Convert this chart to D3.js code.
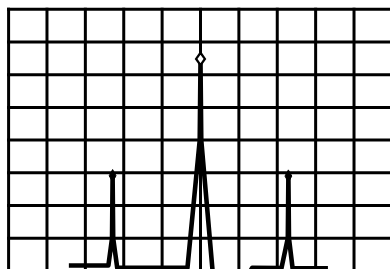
<!DOCTYPE html>
<html>
<head>
<meta charset="utf-8">
<script src="https://cdn.jsdelivr.net/npm/d3@7"></script>
<style>
  html, body { margin: 0; padding: 0; background: #fff; overflow: hidden; }
  svg { display: block; }
</style>
</head>
<body>
<svg id="chart" width="390" height="269"></svg>
<script>
// Frequency positions (0..100 across 10 grid divisions) and levels (0..8 across 8 divisions)
const freq  = [15.7, 26.0, 26.95, 27.1, 27.25, 28.3, 46.6, 49.8, 50.0, 50.2, 53.15, 56.0, 62.5, 63.5, 71.1, 72.75, 72.9, 73.05, 74.0, 83.2];
const level = [0.17, 0.17, 1.0,   2.9,  1.0,   0.1,  0.1,  4.0,  6.35, 4.0,  0.0,  -0.1, -0.1, 0.1,  0.09, 1.0,   2.9,  1.0,   0.08, 0.08];

// Peak tips (marker positions)
const peakFreq  = [27.1, 50.0, 72.9];
const peakLevel = [3.1, 6.67, 3.09];
const peakHollow = [false, true, false];

const xTicks = d3.range(0, 101, 10);
const yTicks = d3.range(0, 9, 1);

const svg = d3.select("#chart");
const W = 390, H = 269;

const x = d3.scaleLinear().domain([0, 100]).range([8.6, 392.4]);
const y = d3.scaleLinear().domain([0, 8]).range([271, 9.2]);

svg.append("defs").append("clipPath").attr("id", "clip")
  .append("rect").attr("x", 0).attr("y", 0).attr("width", W).attr("height", H);

const g = svg.append("g").attr("clip-path", "url(#clip)");

// grid
g.append("g").selectAll("line").data(xTicks).join("line")
  .attr("x1", d => x(d)).attr("x2", d => x(d))
  .attr("y1", y(8) - 1.5).attr("y2", y(0) + 1.5)
  .attr("stroke", "#000").attr("stroke-width", 3);
g.append("g").selectAll("line").data(yTicks).join("line")
  .attr("x1", x(0) - 1.5).attr("x2", x(100) + 1.5)
  .attr("y1", d => y(d)).attr("y2", d => y(d))
  .attr("stroke", "#000").attr("stroke-width", 3);

// trace
const pts = freq.map((f, i) => [f, level[i]]);
const line = d3.line().x(d => x(d[0])).y(d => y(d[1]));
g.append("path").datum(pts)
  .attr("d", line)
  .attr("fill", "none")
  .attr("stroke", "#000")
  .attr("stroke-width", 4.6)
  .attr("stroke-linejoin", "round")
  .attr("stroke-linecap", "butt");

// peak markers (diamonds with top at tip)
peakFreq.forEach((f, i) => {
  const cx = x(f), top = y(peakLevel[i]);
  const hw = peakHollow[i] ? 4.4 : 3.4, hh = 6.2;
  const cy = top + hh;
  const d = `M${cx},${top} L${cx + hw},${cy} L${cx},${cy + hh} L${cx - hw},${cy} Z`;
  g.append("path").attr("d", d)
    .attr("fill", peakHollow[i] ? "#fff" : "#000")
    .attr("stroke", "#000")
    .attr("stroke-width", peakHollow[i] ? 2.3 : 1)
    .attr("stroke-linejoin", "miter");
});
</script>
</body>
</html>
